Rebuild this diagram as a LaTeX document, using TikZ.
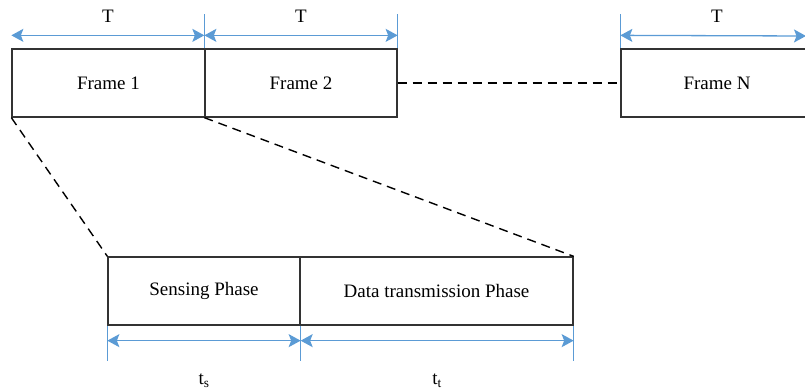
\documentclass[tikz,border=0pt]{standalone}
\usepackage{fontspec}
\setmainfont{Liberation Serif}
\usetikzlibrary{arrows.meta,calc}
\definecolor{dimblue}{HTML}{5B9BD5}
\definecolor{boxline}{HTML}{333333}
\begin{document}
\begin{tikzpicture}[x=1pt,y=-1pt,
  >={Stealth[length=12pt,width=13pt,inset=2.5pt]},
  framebox/.style={draw=boxline,line width=1.3pt,minimum height=68pt,inner sep=0pt,font=\fontsize{19}{22}\selectfont},
  dimarrow/.style={draw=dimblue,line width=1.3pt,<->},
  dimtick/.style={draw=dimblue,line width=1.2pt},
  zoomline/.style={draw=black,line width=1.4pt,dash pattern=on 9pt off 6pt},
  dimlabel/.style={font=\fontsize{19}{22}\selectfont,inner sep=0pt}]
\useasboundingbox (0,0) rectangle (805,391);
% top frames
\node[framebox,minimum width=193pt] (f1) at (108.5,83) {Frame 1};
\node[framebox,minimum width=192pt] (f2) at (301,83) {Frame 2};
\node[framebox,minimum width=192pt] (fN) at (717,83) {Frame N};
% bottom phases
\node[framebox,minimum width=192pt] (sp) at (204,291) {Sensing Phase};
\node[framebox,minimum width=273pt] (dp) at (436.5,291) {Data transmission Phase};
% dashed connectors
\draw[zoomline] (f2.east) -- (fN.west);
\draw[zoomline] (f1.south west) -- (sp.north west);
\draw[zoomline] (f2.south west) -- (dp.north east);
% top ticks
\coordinate (t1) at ($(f2.north west)+(0,-34)$);
\coordinate (t2) at ($(f2.north east)+(0,-34)$);
\coordinate (t3) at ($(fN.north west)+(0,-34)$);
\draw[dimtick] (f2.north west) -- (t1);
\draw[dimtick] (f2.north east) -- (t2);
\draw[dimtick] (fN.north west) -- (t3);
% top arrows
\coordinate (a1) at ($(f1.north west)+(0,-13)$);
\coordinate (a2) at ($(f2.north west)+(0,-13)$);
\coordinate (a3) at ($(f2.north east)+(0,-13)$);
\coordinate (a4) at ($(fN.north west)+(0,-13)$);
\coordinate (a5) at (806,36);
\draw[dimarrow] (a1) -- (a2) node[dimlabel,midway,yshift=19pt] (T1) {T};
\draw[dimarrow] (a2) -- (a3) node[dimlabel,midway,yshift=19pt] (T2) {T};
\draw[dimarrow] (a4) -- (a5) node[dimlabel,pos=0.52,yshift=19pt] (T3) {T};
% bottom ticks
\coordinate (b1) at ($(sp.south west)+(0,35)$);
\coordinate (b2) at ($(sp.south east)+(0,35)$);
\coordinate (b3) at ($(dp.south east)+(0,35)$);
\draw[dimtick] (sp.south west) -- (b1);
\draw[dimtick] (sp.south east) -- (b2);
\draw[dimtick] (dp.south east) -- (b3);
% bottom arrows
\coordinate (c1) at ($(sp.south west)+(0,15)$);
\coordinate (c2) at ($(sp.south east)+(0,15)$);
\coordinate (c3) at ($(dp.south east)+(0,15)$);
\draw[dimarrow] (c1) -- (c2) node[dimlabel,midway,yshift=-40pt] (ts) {t\textsubscript{s}};
\draw[dimarrow] (c2) -- (c3) node[dimlabel,midway,yshift=-40pt] (tt) {t\textsubscript{t}};
\end{tikzpicture}
\end{document}
